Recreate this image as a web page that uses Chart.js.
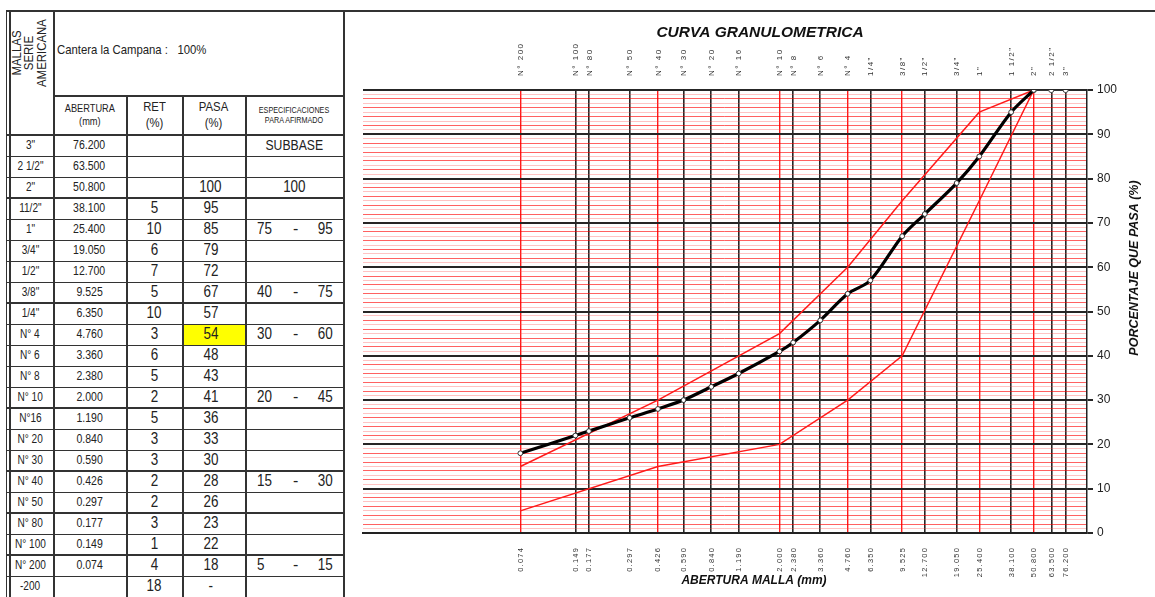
<!DOCTYPE html>
<html>
<head>
<meta charset="utf-8">
<script src="https://cdn.jsdelivr.net/npm/chart.js@4.4.1/dist/chart.umd.min.js"></script>
<style>
  html, body { margin: 0; padding: 0; background: #fff; width: 1155px; height: 597px; overflow: hidden; }
  #hoja { position: relative; width: 1155px; height: 597px; }
  .ln { position: absolute; background: #333; }
  .cel { position: absolute; box-sizing: border-box; display: flex; align-items: center; justify-content: center;
         font-family: "Liberation Sans", Arial, sans-serif; color: #222; text-align: center; line-height: 1.15; }
  .nw { display: inline-block; transform: scaleX(0.84); white-space: nowrap; }
  #graf { position: absolute; left: 345px; top: 13px; width: 810px; height: 584px; }
</style>
</head>
<body>
<div id="hoja">
  <div id="tabla"></div>
  <div id="graf"><canvas id="curva" width="810" height="584"></canvas></div>
</div>
<script>
// ---- Ensayo de granulometría: Cantera la Campana ----
const mallas    = ['3"', '2 1/2"', '2"', '11/2"', '1"', '3/4"', '1/2"', '3/8"', '1/4"', 'N° 4', 'N° 6', 'N° 8',
                   'N° 10', 'N°16', 'N° 20', 'N° 30', 'N° 40', 'N° 50', 'N° 80', 'N° 100', 'N° 200', '-200'];
const aberturas = [76.2, 63.5, 50.8, 38.1, 25.4, 19.05, 12.7, 9.525, 6.35, 4.76, 3.36, 2.38,
                   2.0, 1.19, 0.84, 0.59, 0.426, 0.297, 0.177, 0.149, 0.074, null];
const retenido  = [null, null, null, 5, 10, 6, 7, 5, 10, 3, 6, 5, 2, 5, 3, 3, 2, 2, 3, 1, 4, 18];
const pasa      = [null, null, 100, 95, 85, 79, 72, 67, 57, 54, 48, 43, 41, 36, 33, 30, 28, 26, 23, 22, 18, '-'];

// Huso de especificación para afirmado (subbase)
const especTamiz = [50.8, 25.4, 9.525, 4.76, 2.0, 0.426, 0.074];
const especMin   = [100, 75, 40, 30, 20, 15, 5];
const especMax   = [100, 95, 75, 60, 45, 30, 15];

// Mallas por encima de 2" que se grafican al 100 %
const tamizTope = [50.8, 63.5, 76.2];
const pasaTope  = [100, 100, 100];

// Rótulos de las mallas en la parte superior del gráfico
const rotuloMalla = ['3"', '2 1/2"', '2"', '1 1/2"', '1"', '3/4"', '1/2"', '3/8"', '1/4"', 'N° 4', 'N° 6', 'N° 8',
                     'N° 10', 'N° 16', 'N° 20', 'N° 30', 'N° 40', 'N° 50', 'N° 80', 'N° 100', 'N° 200'];

// ---------- Tabla ----------
const tabla = document.getElementById('tabla');
const colX = [7, 53, 126, 182, 245, 343];
const yCab1 = 11, yCab2 = 95, yDatos = 135, altoFila = 21;
const gruesas = new Set([2, 7, 12, 15, 17, 19]);

function linea(x, y, w, h, color) {
  const d = document.createElement('div');
  d.className = 'ln';
  Object.assign(d.style, { left: x + 'px', top: y + 'px', width: w + 'px', height: h + 'px' });
  if (color) d.style.background = color;
  tabla.appendChild(d);
}
function celda(x0, x1, y0, y1, html, css) {
  const d = document.createElement('div');
  d.className = 'cel';
  Object.assign(d.style, { left: x0 + 'px', top: y0 + 'px', width: (x1 - x0) + 'px', height: (y1 - y0) + 'px' }, css || {});
  d.innerHTML = html;
  tabla.appendChild(d);
  return d;
}
const angosto = t => '<span class="nw">' + t + '</span>';

const nFilas = mallas.length;
const yFin = yDatos + nFilas * altoFila;

// encabezado
const cMallas = celda(colX[0], colX[1], yCab1, yDatos, '');
const rot = document.createElement('div');
Object.assign(rot.style, { position: 'absolute', left: '50%', top: '42px', transform: 'translate(-50%,-50%) rotate(-90deg)',
  fontSize: '13px', lineHeight: '0.95', whiteSpace: 'nowrap', textAlign: 'center' });
rot.innerHTML = '<span class="nw" style="transform:scaleX(0.88);">MALLAS<br>SERIE<br>AMERICANA</span>';
cMallas.appendChild(rot);
celda(colX[1], colX[5], yCab1, yCab2,
  '<span class="nw" style="font-size:13.5px;transform-origin:left center;">Cantera la Campana :&nbsp;&nbsp; 100%</span>',
  { justifyContent: 'flex-start', paddingLeft: '4px', paddingBottom: '6px' });
celda(colX[1], colX[2], yCab2, yDatos, '<span class="nw" style="font-size:11px;">ABERTURA<br>(mm)</span>');
celda(colX[2], colX[3], yCab2, yDatos, '<span class="nw" style="font-size:13.5px;">RET<br>(%)</span>');
celda(colX[3], colX[4], yCab2, yDatos, '<span class="nw" style="font-size:13.5px;">PASA<br>(%)</span>');
celda(colX[4], colX[5], yCab2, yDatos, '<span class="nw" style="font-size:9px;transform:scaleX(0.8);">ESPECIFICACIONES<br>PARA AFIRMADO</span>');

// filas de datos
for (let i = 0; i < nFilas; i++) {
  const y0 = yDatos + i * altoFila, y1 = y0 + altoFila;
  celda(colX[0], colX[1], y0, y1, angosto(mallas[i]), { fontSize: '12px' });
  celda(colX[1], colX[2], y0, y1, aberturas[i] == null ? '' : angosto(aberturas[i].toFixed(3)), { fontSize: '12.5px' });
  celda(colX[2], colX[3], y0, y1, retenido[i] == null ? '' : angosto(retenido[i]), { fontSize: '16px' });
  const cp = celda(colX[3], colX[4], y0, y1, pasa[i] == null ? '' : angosto(pasa[i]), { fontSize: '16px', paddingRight: '6px' });
  if (mallas[i] === 'N° 4') cp.style.background = '#ffff00';
  const k = especTamiz.indexOf(aberturas[i]);
  if (i === 0) {
    celda(colX[4], colX[5], y0, y1, angosto('SUBBASE'), { fontSize: '14.5px' });
  } else if (k >= 0) {
    if (especMin[k] === especMax[k]) {
      celda(colX[4], colX[5], y0, y1, angosto(String(especMin[k])), { fontSize: '16px' });
    } else {
      celda(colX[4], colX[5], y0, y1,
        '<span class="nw" style="position:absolute;left:12px;transform-origin:left center;">' + especMin[k] + '</span>' +
        '<span style="position:absolute;left:48px;">-</span>' +
        '<span class="nw" style="position:absolute;right:10px;transform-origin:right center;">' + especMax[k] + '</span>', { fontSize: '16px' });
    }
  }
}

// líneas de la tabla
linea(7, 10, 1148, 2);                         // borde superior de la hoja
linea(colX[1], yCab2, colX[5] - colX[1], 1.5);  // bajo "Cantera"
linea(colX[0], yDatos - 1, colX[5] - colX[0], 2);
for (let i = 1; i <= nFilas; i++) {
  const y = yDatos + i * altoFila;
  linea(colX[0], y - (gruesas.has(i - 1) ? 1 : 0), colX[5] - colX[0], gruesas.has(i - 1) ? 2 : 1);
}
linea(6, 10, 1, yFin);
linea(9, 10, 1.5, yFin);
linea(colX[1], yCab1, 1.5, yFin);
for (const x of [colX[2], colX[3], colX[4]]) linea(x, yCab2, 1.5, yFin);
linea(colX[5], yCab1, 2, yFin);

// ---------- Curva granulométrica ----------
const puntosMuestra = [];
for (let i = 0; i < nFilas; i++) {
  if (aberturas[i] != null && typeof pasa[i] === 'number') puntosMuestra.push({ x: aberturas[i], y: pasa[i] });
}
puntosMuestra.sort((a, b) => a.x - b.x);
const husoMax = especTamiz.map((t, i) => ({ x: t, y: especMax[i] })).reverse();
const husoMin = especTamiz.map((t, i) => ({ x: t, y: especMin[i] })).reverse();
const tope = tamizTope.map((t, i) => ({ x: t, y: pasaTope[i] }));

const tamicesEje = aberturas.filter(v => v != null);
const tamicesRojos = new Set(especTamiz);

const rotulos = {
  id: 'rotulos',
  afterDraw(chart) {
    const { ctx, chartArea: a } = chart;
    const xs = chart.scales.x;
    ctx.save();
    ctx.fillStyle = '#333';
    // nombres de mallas (arriba)
    ctx.font = '8px "Liberation Sans", Arial, sans-serif';
    ctx.letterSpacing = '1.5px';
    tamicesEje.forEach((v, i) => {
      const px = xs.getPixelForValue(v);
      ctx.save();
      ctx.translate(px + 0.5, a.top - 14);
      ctx.rotate(-Math.PI / 2);
      ctx.textAlign = 'left';
      ctx.textBaseline = 'middle';
      ctx.fillText(rotuloMalla[i], 0, 0);
      ctx.restore();
    });
    // aberturas (abajo)
    ctx.font = '7.5px "Liberation Sans", Arial, sans-serif';
    ctx.letterSpacing = '1.2px';
    tamicesEje.forEach(v => {
      const px = xs.getPixelForValue(v);
      ctx.save();
      ctx.translate(px + 0.5, a.bottom + 14);
      ctx.rotate(-Math.PI / 2);
      ctx.textAlign = 'right';
      ctx.textBaseline = 'middle';
      ctx.fillText(v.toFixed(3), 0, 0);
      ctx.restore();
    });
    ctx.letterSpacing = '0px';
    ctx.fillStyle = '#111';
    ctx.textAlign = 'center';
    ctx.textBaseline = 'middle';
    ctx.font = 'italic bold 15.5px "Liberation Sans", Arial, sans-serif';
    ctx.fillText('CURVA GRANULOMETRICA', 415, 20);
    ctx.font = 'italic bold 12px "Liberation Sans", Arial, sans-serif';
    ctx.fillText('ABERTURA MALLA (mm)', 409, 568);
    ctx.save();
    ctx.translate(790, 255);
    ctx.rotate(-Math.PI / 2);
    ctx.font = 'italic bold 12.5px "Liberation Sans", Arial, sans-serif';
    ctx.fillText('PORCENTAJE QUE PASA (%)', 0, 0);
    ctx.restore();
    ctx.restore();
  }
};

new Chart(document.getElementById('curva'), {
  type: 'line',
  data: {
    datasets: [
      { label: 'Muestra', data: puntosMuestra, borderColor: '#000', borderWidth: 3.2, tension: 0.3,
        pointRadius: 2.4, pointBackgroundColor: '#fff', pointBorderColor: '#333', pointBorderWidth: 1 },
      { label: 'Tope', data: tope, borderColor: '#444', borderWidth: 1, tension: 0,
        pointRadius: 2.6, pointBackgroundColor: '#fff', pointBorderColor: '#444', pointBorderWidth: 1 },
      { label: 'Máximo', data: husoMax, borderColor: '#ff1a1a', borderWidth: 1.5, tension: 0, pointRadius: 0 },
      { label: 'Mínimo', data: husoMin, borderColor: '#ff1a1a', borderWidth: 1.5, tension: 0, pointRadius: 0 }
    ]
  },
  options: {
    responsive: false,
    animation: false,
    devicePixelRatio: 1,
    layout: { autoPadding: false, padding: { left: 18, top: 77, right: 0, bottom: 0 } },
    plugins: { legend: { display: false }, tooltip: { enabled: false } },
    scales: {
      x: {
        type: 'logarithmic', position: 'bottom', min: 0.01, max: 100,
        afterBuildTicks(s) { s.ticks = tamicesEje.slice().sort((a, b) => a - b).map(v => ({ value: v })); },
        afterFit(s) { s.height = 64; },
        ticks: { display: false },
        grid: {
          drawTicks: false,
          color: c => tamicesRojos.has(c.tick && c.tick.value) ? 'rgba(255,0,0,0.9)' : '#262626',
          lineWidth: c => tamicesRojos.has(c.tick && c.tick.value) ? 1.4 : 1.6
        },
        border: { display: true, color: '#222', width: 2 }
      },
      y: {
        type: 'linear', position: 'right', min: 0, max: 100,
        afterFit(s) { s.width = 68; },
        ticks: {
          stepSize: 1, autoSkip: false, padding: 4, color: '#222',
          font: { family: '"Liberation Sans", Arial, sans-serif', size: 12 },
          callback: v => (v % 10 === 0 ? String(v) : '')
        },
        grid: {
          tickLength: 6,
          color: c => { const v = c.tick.value; return v % 10 === 0 ? '#262626' : (v % 2 === 0 ? 'rgba(255,0,0,0.62)' : 'rgba(255,70,70,0.32)'); },
          lineWidth: c => (c.tick.value % 10 === 0 ? 2 : 1),
          tickColor: c => (c.tick.value % 10 === 0 ? '#262626' : 'rgba(0,0,0,0)')
        },
        border: { display: true, color: '#222', width: 1.5 }
      }
    }
  },
  plugins: [rotulos]
});
</script>
</body>
</html>
